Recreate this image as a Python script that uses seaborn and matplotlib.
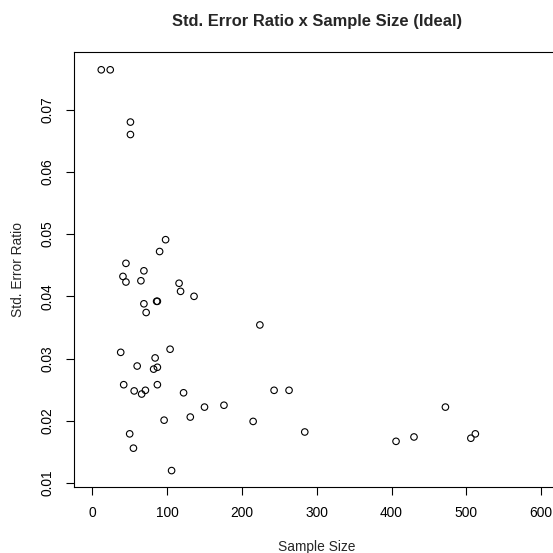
import numpy as np
import pandas as pd
import matplotlib
matplotlib.use("Agg")
import matplotlib.pyplot as plt
import seaborn as sns

# valores
sample_size = [
    12, 24, 51, 51,
    98, 90, 45, 69, 41, 45, 65, 116, 118, 136, 69, 86, 87, 72,
    224, 38, 104, 84, 60, 82, 87, 42, 87, 56, 71, 66, 122,
    150, 176, 96, 131, 215, 50, 55, 106,
    243, 263, 284, 472, 406, 430, 506, 512,
]
se_ratio = [
    0.0764, 0.0764, 0.0680, 0.0660,
    0.0491, 0.0472, 0.0453, 0.0441, 0.0432, 0.0423, 0.0425, 0.0421, 0.0408, 0.0400,
    0.0388, 0.0392, 0.0392, 0.0374,
    0.0354, 0.0310, 0.0315, 0.0301, 0.0288, 0.0283, 0.0286, 0.0258, 0.0258,
    0.0248, 0.0249, 0.0243, 0.0245,
    0.0222, 0.0225, 0.0201, 0.0206, 0.0199, 0.0179, 0.0156, 0.0120,
    0.0249, 0.0249, 0.0182, 0.0222, 0.0167, 0.0174, 0.0172, 0.0179,
]
x_ticks = [0, 100, 200, 300, 400, 500, 600]
y_ticks = [0.01, 0.02, 0.03, 0.04, 0.05, 0.06, 0.07]

TITLE = "Std. Error Ratio x Sample Size (Ideal)"
XLABEL = "Sample Size"
YLABEL = "Std. Error Ratio"


def main():
    sns.set_style("white")
    plt.rcParams["font.family"] = ["Liberation Sans", "DejaVu Sans"]

    df = pd.DataFrame({"n": sample_size, "ratio": se_ratio})

    fig = plt.figure(figsize=(5.53, 5.53), dpi=100)
    ax = fig.add_axes([0.1344, 0.1199, 0.8767, 0.7855])

    sns.scatterplot(data=df, x="n", y="ratio", ax=ax, marker="o", s=22,
                    facecolor="none", edgecolor="black", linewidth=0.8)

    ax.set_xlim(-24, 624)
    ax.set_ylim(0.00941, 0.07921)
    ax.set_xticks(x_ticks)
    ax.set_yticks(y_ticks)
    ax.set_xticklabels([str(v) for v in x_ticks])
    ax.set_yticklabels([f"{v:.2f}" for v in y_ticks], rotation=90, va="center")

    for side in ["left", "bottom", "top", "right"]:
        ax.spines[side].set_color("black")
        ax.spines[side].set_linewidth(0.8)

    ax.tick_params(axis="both", direction="out", length=6, width=0.8,
                   color="black", labelsize=9.9, labelcolor="black",
                   bottom=True, left=True)
    ax.tick_params(axis="x", pad=8)
    ax.tick_params(axis="y", pad=8)

    ax.set_xlabel(XLABEL, fontsize=9.9)
    ax.set_ylabel(YLABEL, fontsize=9.9)
    ax.xaxis.set_label_coords(0.5, -0.138)
    ax.xaxis.label.set_va("center")
    ax.yaxis.set_label_coords(-0.116, 0.5)
    ax.yaxis.label.set_va("center")

    ax.set_title(TITLE, fontsize=11.9, fontweight="bold", y=1.071, va="center", pad=0)

    fig.savefig("out.png", dpi=100)


if __name__ == "__main__":
    main()
